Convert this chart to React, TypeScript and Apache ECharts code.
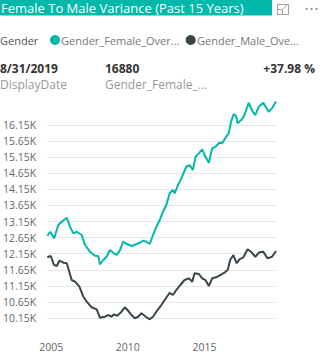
import React, { useEffect, useRef } from "react";
import * as echarts from "echarts";

const femaleYears = [2004.75, 2004.94, 2005.19, 2005.47, 2005.69, 2006.02, 2006.23, 2006.45, 2006.67, 2006.99, 2007.21, 2007.53, 2007.86, 2008.07, 2008.18, 2008.40, 2008.62, 2008.83, 2009.09, 2009.27, 2009.48, 2009.69, 2009.95, 2010.24, 2010.56, 2010.78, 2010.99, 2011.21, 2011.43, 2011.64, 2011.86, 2012.08, 2012.29, 2012.51, 2012.73, 2012.94, 2013.05, 2013.27, 2013.49, 2013.81, 2014.03, 2014.24, 2014.42, 2014.63, 2014.85, 2015.06, 2015.28, 2015.50, 2015.76, 2015.97, 2016.15, 2016.41, 2016.58, 2016.73, 2016.90, 2017.06, 2017.16, 2017.45, 2017.60, 2017.88, 2018.14, 2018.31, 2018.53, 2018.83, 2019.18, 2019.40, 2019.66];
const femaleValues = [12708, 12832, 12627, 13040, 13143, 13267, 12988, 12782, 12832, 12730, 12419, 12211, 12086, 12077, 11819, 11953, 12055, 12263, 12161, 12108, 12242, 12521, 12450, 12388, 12450, 12490, 12553, 12521, 12450, 12730, 12988, 13196, 13454, 13662, 14026, 14128, 14026, 14284, 14492, 14852, 14905, 14750, 15163, 15269, 15393, 15163, 14977, 15424, 15496, 15598, 15580, 15785, 15890, 16251, 16490, 16428, 16201, 16326, 16459, 16842, 16562, 16459, 16717, 16842, 16562, 16668, 16880];

const maleYears = [2004.75, 2004.98, 2005.19, 2005.37, 2005.54, 2005.80, 2006.02, 2006.34, 2006.56, 2006.84, 2007.10, 2007.32, 2007.64, 2007.97, 2008.18, 2008.51, 2008.72, 2008.94, 2009.09, 2009.31, 2009.59, 2009.81, 2010.02, 2010.24, 2010.45, 2010.67, 2010.89, 2011.17, 2011.43, 2011.64, 2011.86, 2012.19, 2012.40, 2012.73, 2012.94, 2013.16, 2013.42, 2013.70, 2013.98, 2014.20, 2014.35, 2014.63, 2014.85, 2015.06, 2015.28, 2015.50, 2015.76, 2016.02, 2016.30, 2016.51, 2016.67, 2016.88, 2017.10, 2017.27, 2017.53, 2017.81, 2018.03, 2018.31, 2018.57, 2018.83, 2019.11, 2019.40, 2019.66];
const maleValues = [12037, 12077, 11797, 11766, 11931, 11869, 11850, 11331, 11278, 11123, 10812, 10657, 10483, 10420, 10159, 10190, 10243, 10190, 10265, 10221, 10346, 10483, 10377, 10243, 10141, 10190, 10296, 10190, 10110, 10190, 10346, 10554, 10709, 10936, 10865, 11020, 11176, 11331, 11384, 11278, 11539, 11518, 11384, 11331, 11145, 11384, 11415, 11486, 11558, 11642, 11953, 12108, 11850, 11974, 12037, 12285, 12211, 12055, 12192, 12211, 12005, 12055, 12234];

const yTicks = [10150, 10650, 11150, 11650, 12150, 12650, 13150, 13650, 14150, 14650, 15150, 15650, 16150];
const xTicks = [2005, 2010, 2015];

const titleText = "Female To Male Variance (Past 15 Years)";
const legendTitle = "Gender";
const legendNames = ["Gender_Female_Over...", "Gender_Male_Ove..."];
const cardValues = ["8/31/2019", "16880", "+37.98 %"];
const cardLabels = ["DisplayDate", "Gender_Female_..."];

const TEAL = "#01B8AA";
const DARK = "#374649";
const FONT = "'Open Sans', 'Noto Sans', sans-serif";

export default function App() {
  const ref = useRef<HTMLDivElement>(null);
  useEffect(() => {
    if (!ref.current) return;
    const chart = echarts.init(ref.current, undefined, { renderer: "svg" });
    const fem = femaleYears.map((y, i) => [y, femaleValues[i]]);
    const mal = maleYears.map((y, i) => [y, maleValues[i]]);
    chart.setOption({
      animation: false,
      textStyle: { fontFamily: FONT },
      grid: {
        left: 47.3,
        top: 97.65,
        width: 228.7,
        height: 228.4,
        containLabel: false,
        outerBoundsMode: "none",
      },
      xAxis: {
        type: "value",
        min: 2004.75,
        max: 2019.66,
        axisLine: { show: false },
        axisTick: { show: false, customValues: xTicks },
        splitLine: { show: false },
        axisLabel: {
          customValues: xTicks,
          formatter: (v: number) => String(Math.round(v)),
          color: "#666",
          fontSize: 10.5,
          fontFamily: FONT,
          margin: 15,
        },
      },
      yAxis: {
        type: "value",
        min: 9900,
        max: 17000,
        axisLine: { show: false },
        axisTick: { show: false, customValues: yTicks },
        splitLine: { show: true, lineStyle: { color: "#E6E6E6", width: 1 } },
        axisLabel: {
          customValues: yTicks,
          formatter: (v: number) => (v / 1000).toFixed(2) + "K",
          color: "#666",
          fontSize: 10.5,
          fontFamily: FONT,
          margin: 11,
        },
      },
      series: [
        {
          type: "line",
          data: fem,
          showSymbol: false,
          lineStyle: { color: TEAL, width: 2 },
          itemStyle: { color: TEAL },
        },
        {
          type: "line",
          data: mal,
          showSymbol: false,
          lineStyle: { color: DARK, width: 2 },
          itemStyle: { color: DARK },
        },
      ],
      graphic: [
        { type: "rect", shape: { x: 0, y: 0, width: 272, height: 15.5 }, style: { fill: TEAL } },
        {
          type: "text",
          x: 1,
          y: 8,
          style: { text: titleText, fill: "#fff", font: `13px ${FONT}`, verticalAlign: "middle" },
        },
        // focus icon
        { type: "rect", shape: { x: 277.5, y: 4.5, width: 11, height: 10 }, style: { fill: "none", stroke: "#A0A0A0", lineWidth: 1 } },
        { type: "rect", shape: { x: 277.5, y: 9.5, width: 5, height: 5 }, style: { fill: "none", stroke: "#A0A0A0", lineWidth: 1 } },
        { type: "line", shape: { x1: 282.5, y1: 9.5, x2: 287.5, y2: 4.5 }, style: { stroke: "#A0A0A0", lineWidth: 1 } },
        { type: "circle", shape: { cx: 306.5, cy: 9, r: 1 }, style: { fill: "#888" } },
        { type: "circle", shape: { cx: 311.5, cy: 9, r: 1 }, style: { fill: "#888" } },
        { type: "circle", shape: { cx: 316.5, cy: 9, r: 1 }, style: { fill: "#888" } },
        // legend
        { type: "text", x: 0, y: 40, style: { text: legendTitle, fill: "#555", font: `11px ${FONT}`, verticalAlign: "middle" } },
        { type: "circle", shape: { cx: 55, cy: 40, r: 5 }, style: { fill: TEAL } },
        { type: "text", x: 61, y: 40, style: { text: legendNames[0], fill: "#777", font: `11px ${FONT}`, verticalAlign: "middle" } },
        { type: "circle", shape: { cx: 190.7, cy: 40, r: 5 }, style: { fill: DARK } },
        { type: "text", x: 197, y: 40, style: { text: legendNames[1], fill: "#777", font: `11px ${FONT}`, verticalAlign: "middle" } },
        // card row
        { type: "text", x: 0, y: 68.5, style: { text: cardValues[0], fill: "#333", font: `bold 12px ${FONT}`, verticalAlign: "middle" } },
        { type: "text", x: 105, y: 68.5, style: { text: cardValues[1], fill: "#333", font: `bold 12px ${FONT}`, verticalAlign: "middle" } },
        { type: "text", x: 315, y: 68.5, style: { text: cardValues[2], fill: "#333", font: `bold 12px ${FONT}`, verticalAlign: "middle", align: "right" } },
        { type: "text", x: 0, y: 84.5, style: { text: cardLabels[0], fill: "#999", font: `12px ${FONT}`, verticalAlign: "middle" } },
        { type: "text", x: 105, y: 84.5, style: { text: cardLabels[1], fill: "#999", font: `12px ${FONT}`, verticalAlign: "middle" } },
      ],
    });
    return () => chart.dispose();
  }, []);
  return (
    <div
      ref={ref}
      style={{ position: "fixed", left: 0, top: 0, width: 321, height: 359, background: "#fff" }}
    />
  );
}
